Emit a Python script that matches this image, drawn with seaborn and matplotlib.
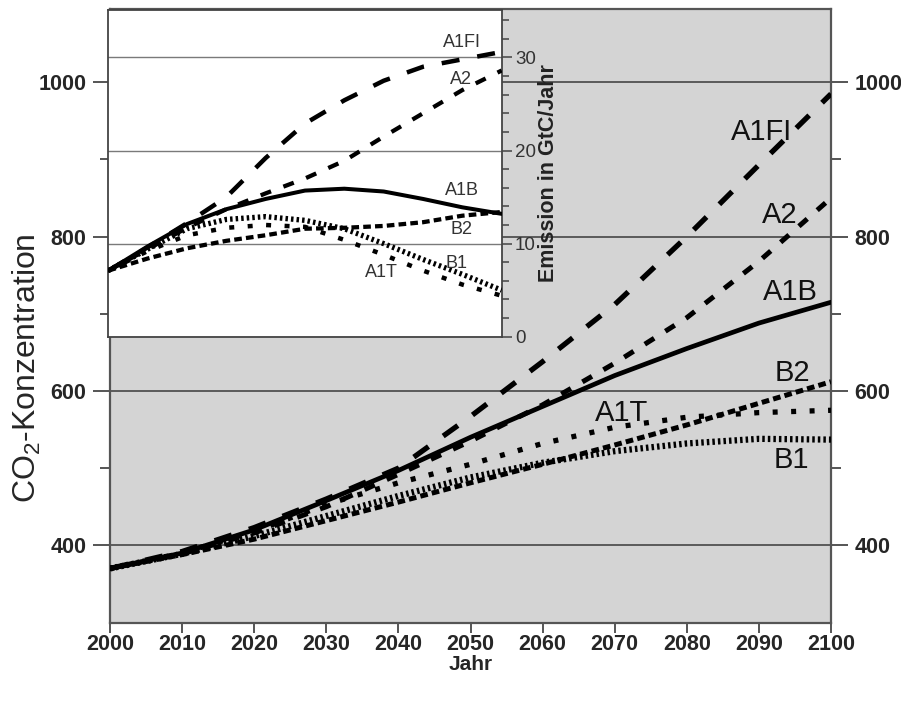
import matplotlib
matplotlib.use("Agg")
import numpy as np
import pandas as pd
import matplotlib.pyplot as plt
from matplotlib.ticker import MultipleLocator
import seaborn as sns

# years shared by all series
years = [2000, 2010, 2020, 2030, 2040, 2050, 2060, 2070, 2080, 2090, 2100]

# CO2 concentration (ppm) - main panel
conc_a1fi = [370, 392, 423, 460, 500, 567, 638, 712, 800, 893, 985]
conc_a2 = [370, 389, 416, 450, 492, 535, 582, 636, 695, 768, 850]
conc_a1b = [370, 390, 420, 458, 497, 540, 580, 620, 655, 688, 715]
conc_b2 = [370, 388, 408, 432, 456, 481, 505, 530, 556, 584, 612]
conc_a1t = [370, 390, 418, 453, 481, 505, 532, 553, 566, 572, 575]
conc_b1 = [370, 389, 412, 438, 464, 488, 507, 522, 532, 538, 537]

# CO2 emissions (GtC/Jahr) - inset
emis_a1fi = [7.1, 9.6, 12.2, 15.0, 19.2, 22.9, 25.4, 27.5, 29.0, 29.8, 30.6]
emis_a2 = [7.1, 9.4, 11.7, 13.7, 15.4, 17.0, 18.9, 21.5, 24.0, 26.5, 28.6]
emis_a1b = [7.1, 9.7, 12.1, 13.7, 14.8, 15.7, 15.9, 15.6, 14.8, 13.9, 13.2]
emis_b2 = [7.1, 8.4, 9.5, 10.3, 10.9, 11.6, 11.7, 11.9, 12.3, 13.0, 13.4]
emis_a1t = [7.1, 9.2, 10.9, 11.7, 12.0, 11.8, 10.4, 8.8, 7.1, 5.6, 4.4]
emis_b1 = [7.1, 9.4, 11.6, 12.6, 12.9, 12.5, 11.6, 10.0, 8.3, 6.7, 5.0]

scenarios = ["A1FI", "A2", "A1B", "B2", "A1T", "B1"]
conc = dict(zip(scenarios, [conc_a1fi, conc_a2, conc_a1b, conc_b2, conc_a1t, conc_b1]))
emis = dict(zip(scenarios, [emis_a1fi, emis_a2, emis_a1b, emis_b2, emis_a1t, emis_b1]))

# line width (pt) and dash pattern (pt) per scenario
styles = {
    "A1FI": (3.8, (13, 13)),
    "A2": (3.6, (8, 9.5)),
    "A1B": (3.4, None),
    "B2": (3.6, (5.5, 3)),
    "A1T": (3.8, (3.6, 9.7)),
    "B1": (4.5, (1.8, 2.2)),
}

sns.set_theme(style="white")
plt.rcParams["font.family"] = ["Liberation Sans", "DejaVu Sans"]
plt.rcParams["mathtext.default"] = "regular"
plt.rcParams["lines.scale_dashes"] = False

W, H = 901, 702
fig = plt.figure(figsize=(W / 100, H / 100), dpi=100)
fig.patch.set_facecolor("white")

spine_col = "#555555"

# ---------------- main panel ----------------
ax = fig.add_axes([110 / W, 1 - 622.5 / H, (831 - 110) / W, (622.5 - 9) / H])
ax.set_facecolor("#d4d4d4")

for name in scenarios:
    lw, dash = styles[name]
    ls = "-" if dash is None else (0, dash)
    sns.lineplot(x=years, y=conc[name], ax=ax, color="black", lw=lw,
                 linestyle=ls, zorder=3)

ax.set_xlim(2000, 2100)
ax.set_ylim(300, 1095)
ax.set_xticks(range(2000, 2101, 10))
ax.set_xticklabels([str(y) for y in range(2000, 2101, 10)], fontweight="bold", fontsize=15.5)
ax.set_yticks([400, 600, 800, 1000])
ax.set_yticklabels(["400", "600", "800", "1000"], fontweight="bold", fontsize=15.5)
ax.set_yticks([500, 700, 900], minor=True)
ax.grid(axis="y", which="major", color="#5a5a5a", lw=1.4)
ax.set_axisbelow(True)
ax.tick_params(axis="y", which="major", direction="out", length=12, width=1.4,
               color=spine_col, left=True, right=True, labelleft=True,
               labelright=True, pad=5)
ax.tick_params(axis="y", which="minor", direction="out", length=7, width=1.4,
               color=spine_col, left=True, right=True)
ax.tick_params(axis="x", which="major", direction="out", length=7, width=1.4,
               color=spine_col, bottom=True, pad=1)
for sp in ax.spines.values():
    sp.set_color(spine_col)
    sp.set_linewidth(1.6)

ax.set_xlabel("Jahr", fontweight="bold", fontsize=15, labelpad=0)
ax.set_ylabel("")
fig.text(27 / W, 1 - 368 / H, "CO$_2$-Konzentration", rotation=90,
         ha="center", va="center", fontsize=23)

main_labels = {
    "A1FI": (2090.4, 936), "A2": (2092.9, 828), "A1B": (2094.3, 728),
    "B2": (2094.6, 623), "A1T": (2071.0, 571), "B1": (2094.5, 510),
}
for name, (xx, yy) in main_labels.items():
    ax.text(xx, yy, name, ha="center", va="center", fontsize=21, color="#111111", zorder=4)

# ---------------- inset ----------------
axi = fig.add_axes([108.3 / W, 1 - 336.7 / H, (501.7 - 108.3) / W, (336.7 - 10) / H])
axi.set_facecolor("white")

for name in scenarios:
    lw, dash = styles[name]
    ls = "-" if dash is None else (0, dash)
    sns.lineplot(x=years, y=emis[name], ax=axi, color="black", lw=lw * 0.85,
                 linestyle=ls, zorder=3)

axi.set_xlim(2000, 2100)
axi.set_ylim(0, 35.1)
axi.set_xticks([])
axi.set_xlabel("")
axi.yaxis.tick_right()
axi.yaxis.set_label_position("right")
axi.set_yticks([0, 10, 20, 30])
axi.set_yticklabels(["0", "10", "20", "30"], fontsize=13.5, color="#333333")
axi.yaxis.set_minor_locator(MultipleLocator(2))
axi.grid(axis="y", which="major", color="#7a7a7a", lw=1.0)
axi.set_axisbelow(True)
axi.tick_params(axis="y", which="major", direction="out", length=7.5, width=1.1,
                color="#444444", left=False, right=True, pad=2)
axi.tick_params(axis="y", which="minor", direction="out", length=5, width=1.1,
                color="#444444", left=False, right=True)
for sp in axi.spines.values():
    sp.set_color("#444444")
    sp.set_linewidth(1.3)
axi.set_ylabel("")
fig.text(548 / W, 1 - 173 / H, "Emission in GtC/Jahr", rotation=90,
         ha="center", va="center", fontsize=15.5, fontweight="bold", color="#222222")

inset_labels = {
    "A1FI": (2089.9, 31.65), "A2": (2089.6, 27.6), "A1B": (2089.9, 15.75),
    "B2": (2089.9, 11.5), "B1": (2088.6, 7.9), "A1T": (2069.5, 6.95),
}
for name, (xx, yy) in inset_labels.items():
    axi.text(xx, yy, name, ha="center", va="center", fontsize=13, color="#333333", zorder=4)

fig.savefig("out.png", dpi=100)
plt.close(fig)
